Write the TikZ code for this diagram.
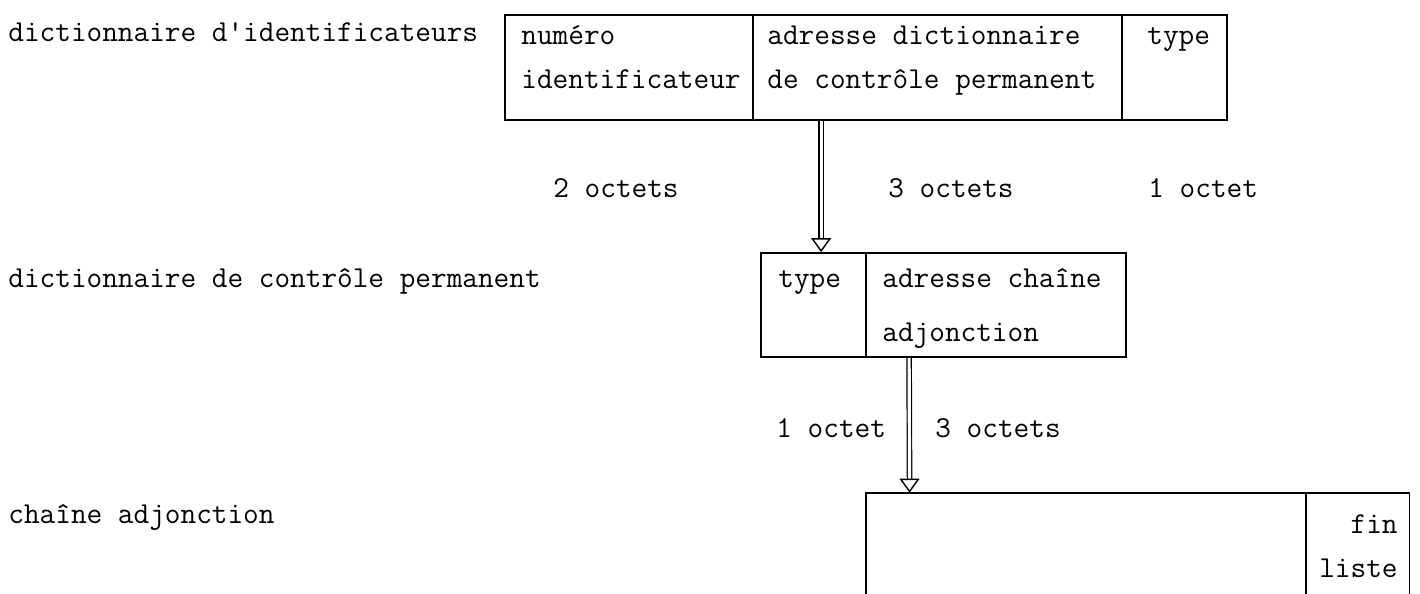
\documentclass[tikz,border=0pt]{standalone}
\usepackage{fontspec}
\usetikzlibrary{arrows.meta,fit,positioning,calc}

\begin{document}
\begin{tikzpicture}[x=1pt,y=1pt,scale=0.5]
\tikzstyle{every node}+=[inner sep=0pt]
\tikzstyle{txt}=[anchor=base west,font=\ttfamily\fontsize{15.2}{18}\selectfont]
\tikzstyle{cell}=[draw,line width=0.9pt]
\tikzstyle{fleche}=[double,double distance=1.6pt,line width=0.6pt,-{Triangle[open,length=7pt,width=10pt,line width=0.7pt]}]
\useasboundingbox (0,0) rectangle (1420,-594);
% dictionnaire d'identificateurs
\node (lblIdent) [txt] at (8,-41) {dictionnaire d'identificateurs};
\node (idNum) [cell,fit={(505,-15) (753,-120)}] {};
\node (idAdr) [cell,fit={(753,-15) (1122,-120)}] {};
\node (idType) [cell,fit={(1122,-15) (1227,-120)}] {};
\node (txtNum) [txt] at (521,-45) {numéro};
\node (txtIdent) [txt] at (521,-88) {identificateur};
\node (txtAdr) [txt] at (767,-45) {adresse dictionnaire};
\node (txtCtl) [txt] at (767,-88) {de contrôle permanent};
\node (txtType) [txt] at (1147,-45) {type};
\node (oct2) [txt] at (553,-197) {2 octets};
\node (oct3) [txt] at (888,-197) {3 octets};
\node (oct1) [txt] at (1148,-197) {1 octet};
% dictionnaire de controle permanent
\node (lblCtl) [txt] at (8,-287) {dictionnaire de contrôle permanent};
\node (ctlType) [cell,fit={(761,-253) (866,-357)}] {};
\node (ctlAdr) [cell,fit={(866,-253) (1126,-357)}] {};
\node (txtCtlType) [txt] at (778,-287) {type};
\node (txtChaine) [txt] at (882,-287) {adresse chaîne};
\node (txtAdj) [txt] at (882,-341) {adjonction};
\node (octA) [txt] at (776,-437) {1 octet};
\node (octB) [txt] at (935,-437) {3 octets};
\draw [fleche] ([xshift=61pt]ctlType.north west |- idAdr.south) -- ([xshift=61pt]ctlType.north west);
% chaine adjonction
\node (lblChaine) [txt] at (8,-523) {chaîne adjonction};
\node (chaine) [fit={(866,-493) (1409,-594)}] {};
\draw [line width=0.9pt] (chaine.south west) -- (chaine.north west) -- (chaine.north east) -- (chaine.south east);
\draw [line width=0.9pt] (1306,-493) -- (1306,-594);
\node (txtFin) [txt,anchor=base east] at (1398,-533) {fin};
\node (txtListe) [txt,anchor=base east] at (1398,-577) {liste};
\draw [fleche] ([xshift=44pt]ctlAdr.south west) -- ([xshift=44pt]chaine.north west);
\end{tikzpicture}
\end{document}
